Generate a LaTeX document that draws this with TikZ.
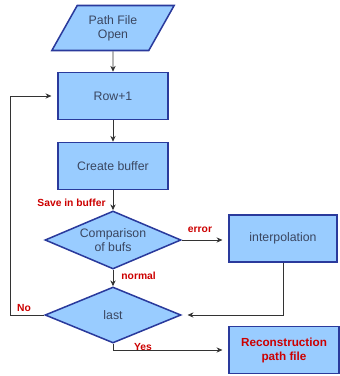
\documentclass[tikz,border=0pt]{standalone}
\usepackage{fontspec}
\setmainfont{Liberation Sans}
\setsansfont{Liberation Sans}
\usetikzlibrary{arrows.meta, positioning, shapes.geometric}
\definecolor{ink}{HTML}{3A4660}
\definecolor{edge}{HTML}{2A3A9C}
\definecolor{fillb}{HTML}{99CCFF}
\definecolor{wire}{HTML}{333333}
\definecolor{alert}{HTML}{CC0000}
\tikzset{
  font=\sffamily,
  >={Stealth[length=5pt, width=4.5pt]},
  %
  box/.style={
    draw=edge, line width=1.3pt, fill=fillb, align=center, text=ink,
    font=\sffamily\fontsize{10.5}{12}\selectfont, inner sep=2pt,
    minimum width=3.3cm, minimum height=1.41cm,
  },
  iobox/.style={box, trapezium, trapezium left angle=58, trapezium right angle=122,
                trapezium stretches=true, minimum width=3.69cm, minimum height=1.35cm},
  test/.style={box, diamond, aspect=2.3, inner sep=0pt,
               minimum width=4.08cm, minimum height=1.74cm},
  outbox/.style={box, text=alert, font=\sffamily\bfseries\fontsize{10}{12}\selectfont},
  %
  flow/.style={draw=wire, line width=0.7pt, ->},
  lbl/.style={font=\sffamily\bfseries\fontsize{8.8}{10}\selectfont, text=alert, inner sep=1pt},
}

\begin{document}
\begin{tikzpicture}[x=0.03cm, y=-0.03cm]
  \useasboundingbox (0,0) rectangle (339,376);

  % ---- main column ------------------------------------------------------
  \node[iobox] (open) at (113,28) {Path File\\Open};
  \node[box] (row) at (113,96) {Row+1};
  \node[box] (buf) at (113,166) {Create buffer};
  \node[test] (cmp) at (113,240) {Comparison\\of bufs};
  \node[test, minimum height=1.68cm] (last) at (113,315) {last};

  % ---- right column -----------------------------------------------------
  \node[box, minimum width=3.24cm] (interp) at (283,238.5) {interpolation};
  \node[outbox] (recon) at (284,350) {Reconstruction\\path file};

  % ---- arrows -----------------------------------------------------------
  \draw[flow] (open) -- (row);
  \draw[flow] (row) -- (buf);
  \draw[flow] (buf) -- (cmp);
  \draw[flow, shorten >=5pt] (cmp.east) -- (cmp.east -| interp.west);
  \draw[flow] (cmp) -- (last);
  \draw[flow, shorten >=5pt] (interp.south) |- (last.east);
  \coordinate (back) at (10,315);
  \draw[flow, shorten >=5pt] (last.west) -- (back) |- (row.west);
  \draw[flow, shorten >=5pt] (last.south) |- (recon.west);

  % ---- labels -----------------------------------------------------------
  \node[lbl, anchor=east] (save) at (107,203) {Save in buffer};
  \node[lbl] (err) at (200,230) {error};
  \node[lbl, anchor=west] (norm) at (120,276) {normal};
  \node[lbl] (no) at (24,308) {No};
  \node[lbl] (yes) at (143,347) {Yes};

\end{tikzpicture}
\end{document}
